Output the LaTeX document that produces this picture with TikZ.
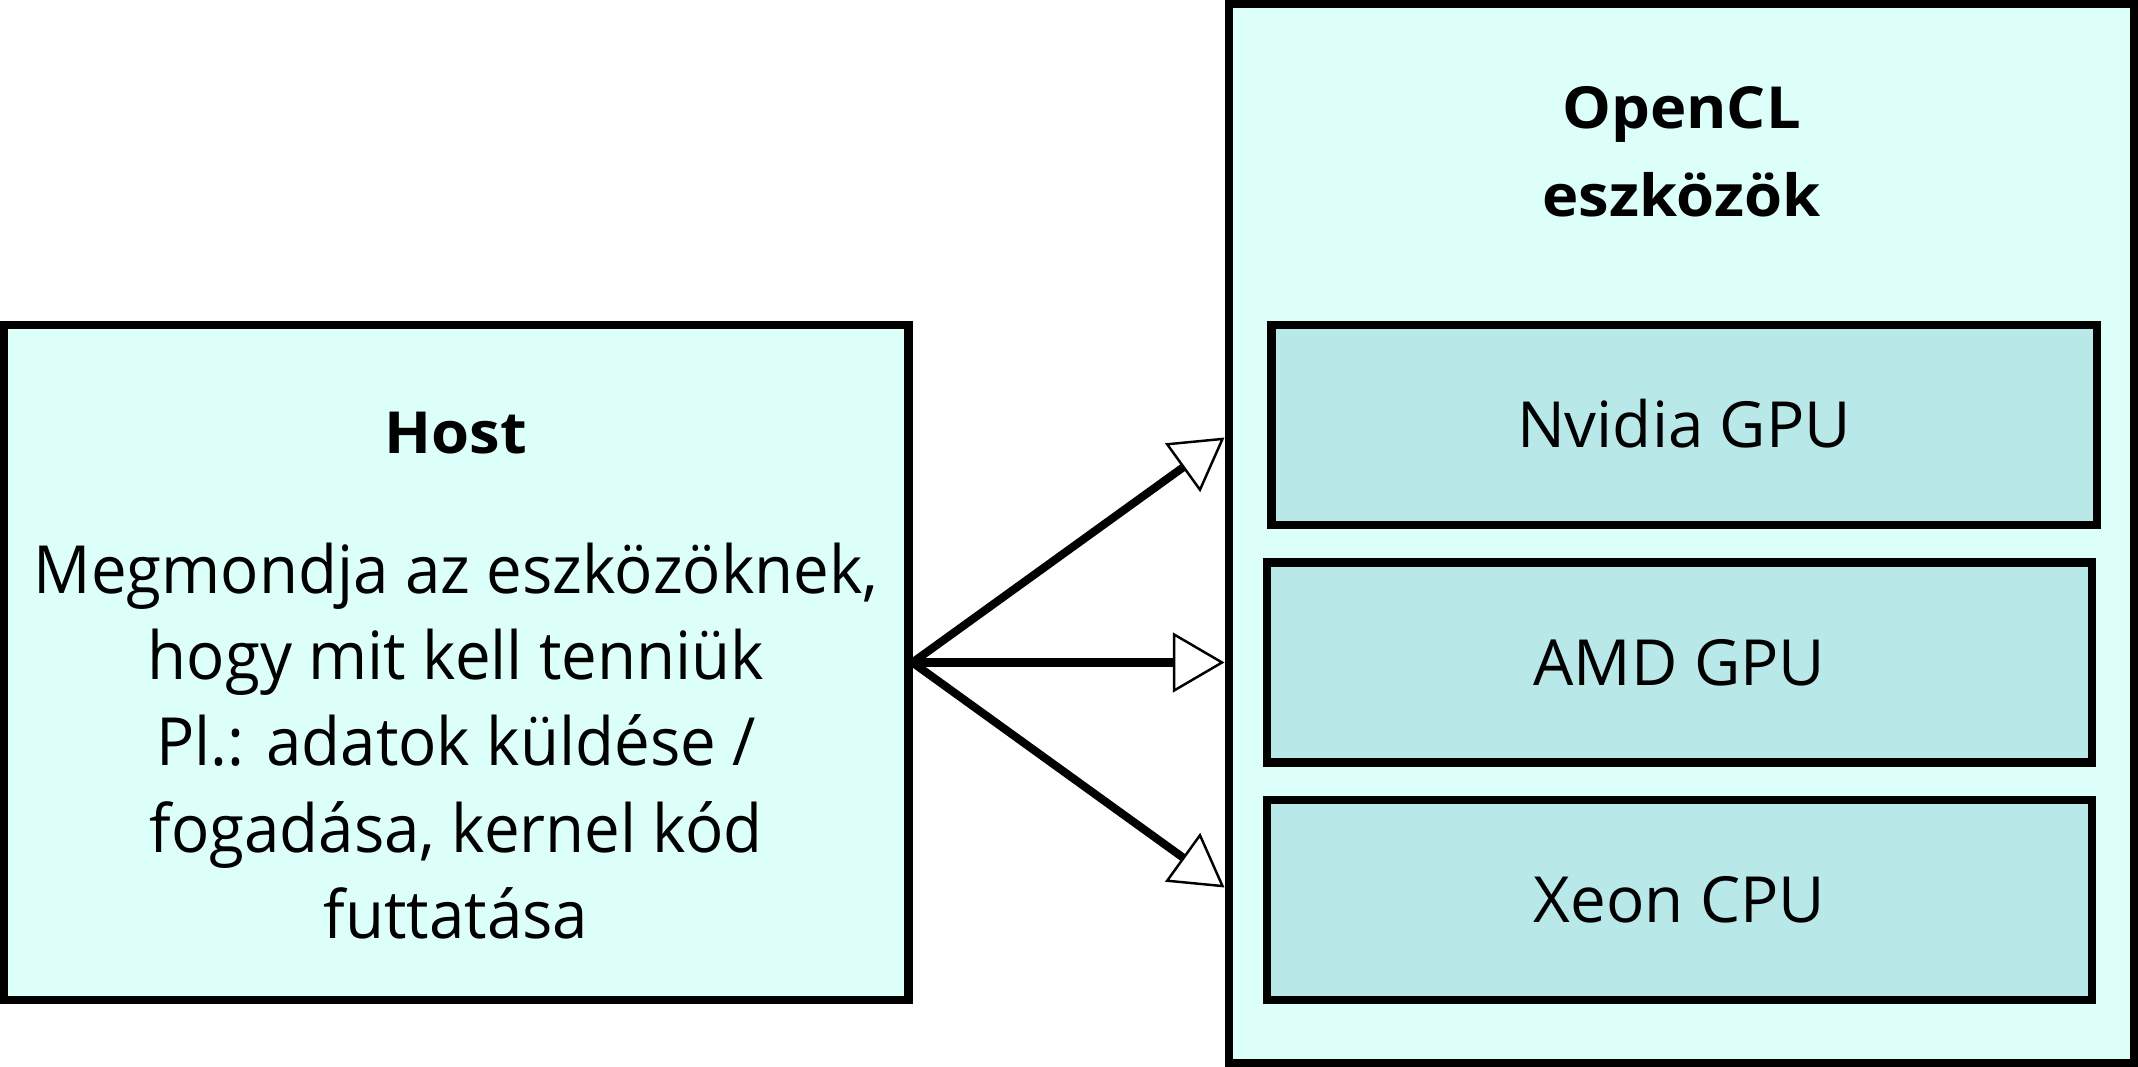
\documentclass[tikz,border=0pt]{standalone}
\usepackage{fontspec}
\setmainfont{Open Sans}
\newfontfamily\bodyfont[FakeStretch=0.957]{Open Sans}
\newfontfamily\titlefont[FakeStretch=1.06]{Open Sans}
\usetikzlibrary{arrows.meta,calc}
\definecolor{outerfill}{HTML}{DDFFFA}
\definecolor{innerfill}{HTML}{B8E8E8}
\begin{document}
\begin{tikzpicture}[x=0.01cm,y=-0.01cm,
  box/.style={draw=black, line width=2.41pt, rectangle, inner sep=0pt},
  hostbox/.style={box, fill=outerfill},
  devbox/.style={box, fill=innerfill, minimum width=8.25cm, minimum height=2cm,
    text height=12.9pt, text depth=0pt, font=\fontsize{18.1}{22}\selectfont},
  titletext/.style={font=\titlefont\bfseries\fontsize{16.5}{25.2}\selectfont, align=center, inner sep=0pt},
  bodytext/.style={font=\bodyfont\fontsize{18.9}{24.55}\selectfont, align=center, inner sep=0pt},
  link/.style={line width=2.3pt, -{Triangle[length=14.7pt,width=17pt,fill=white,line width=0.7pt]}}]
\useasboundingbox (0,0) rectangle (2138,1067);
\node[hostbox, minimum width=9.04cm, minimum height=6.75cm] (host) at (456,662.5) {};
\node[hostbox, minimum width=9.05cm, minimum height=10.59cm] (opencl) at (1681.5,533.5) {};
\node[devbox] (nvidia) at (1684,425) {Nvidia GPU};
\node[devbox] (amd) at (1679.5,662.5) {AMD GPU};
\node[devbox] (xeon) at (1679.5,900) {Xeon CPU};
\node[titletext, anchor=base] (hosttitle) at (456,453.3) {Host};
\node[bodytext, anchor=base] (hostbody) at (456,938.4) {Megmondja az eszközöknek,\\hogy mit kell tenniük\\Pl.: adatok küldése /\\fogadása, kernel kód\\futtatása};
\node[titletext, anchor=base] (opencltitle) at (1681.5,217) {OpenCL\\eszközök};
\coordinate (tipmid) at (opencl.west |- host.east);
\coordinate (tipup) at ($(tipmid)+(0,-225)$);
\coordinate (tipdown) at ($(tipmid)+(0,225)$);
\draw[link] (host.east) -- (tipup);
\draw[link] (host.east) -- (tipmid);
\draw[link] (host.east) -- (tipdown);
\end{tikzpicture}
\end{document}
